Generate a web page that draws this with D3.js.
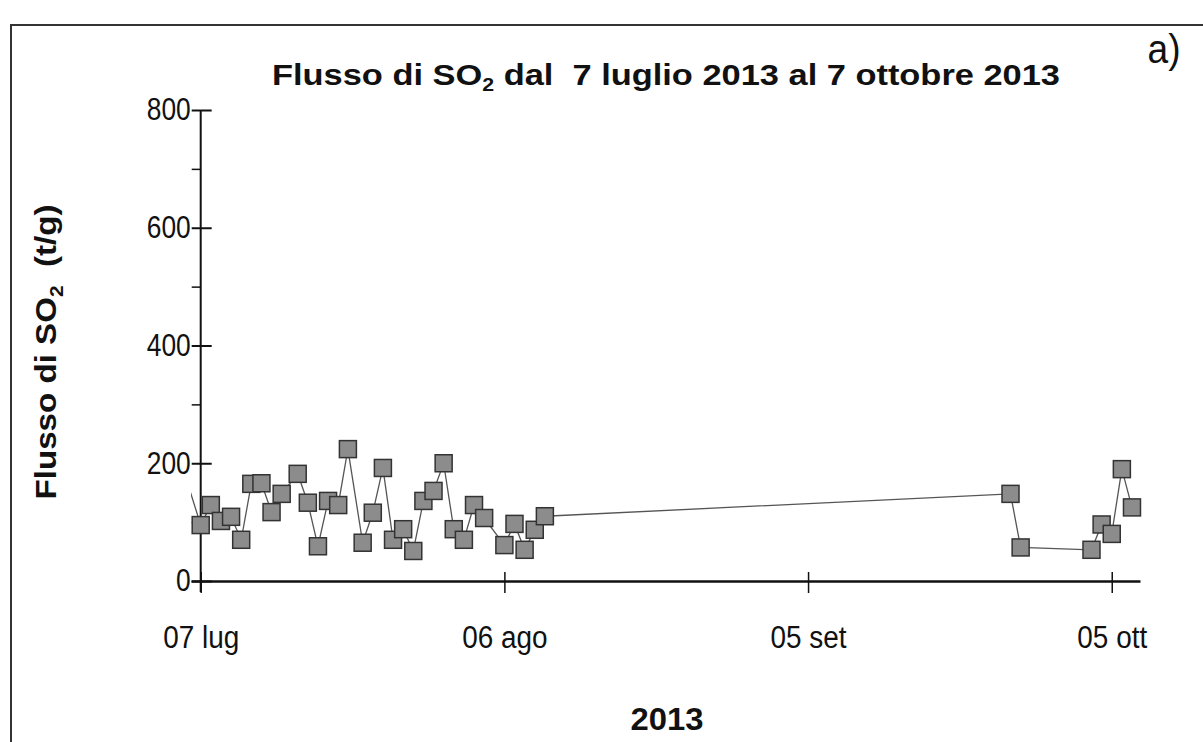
<!DOCTYPE html>
<html lang="en">
<head>
    <meta charset="utf-8">
    <script src="https://cdnjs.cloudflare.com/ajax/libs/d3/7.3.0/d3.min.js"></script>
    <style>
        body { margin: 0; background: #fff; }
        text { white-space: pre; }
    </style>
</head>
<body>

<script>
// measurement times (local) and SO2 flux in t/g
var dates = [
    "2013-07-06 00:00", "2013-07-07 00:00", "2013-07-08 00:00", "2013-07-09 00:00", "2013-07-10 00:00",
    "2013-07-11 00:00", "2013-07-12 00:00", "2013-07-13 00:00", "2013-07-14 00:00", "2013-07-15 00:00",
    "2013-07-16 14:00", "2013-07-17 14:00", "2013-07-18 14:00", "2013-07-19 14:00", "2013-07-20 14:00",
    "2013-07-21 13:00", "2013-07-23 00:00", "2013-07-24 00:00", "2013-07-25 00:00", "2013-07-26 00:00",
    "2013-07-27 00:00", "2013-07-28 00:00", "2013-07-29 00:00", "2013-07-30 00:00", "2013-07-31 00:00",
    "2013-08-01 00:00", "2013-08-02 00:00", "2013-08-03 00:00", "2013-08-04 00:00", "2013-08-06 00:00",
    "2013-08-07 00:00", "2013-08-08 00:00", "2013-08-09 00:00", "2013-08-10 00:00", "2013-09-25 00:00",
    "2013-09-26 00:00", "2013-10-03 00:00", "2013-10-04 00:00", "2013-10-05 00:00", "2013-10-06 00:00",
    "2013-10-07 00:00"
]
var flux = [
    150, 95, 129, 102, 109,
    70, 165, 166, 117, 148,
    182, 133, 59, 136, 129,
    224, 65, 116, 192, 70,
    88, 51, 136, 153, 200,
    88, 70, 129, 107, 61,
    97, 53, 87, 110, 148,
    57, 53, 96, 80, 190,
    125
]

var tickDates = ["2013-07-07 00:00", "2013-08-06 00:00", "2013-09-05 00:00", "2013-10-05 00:00"]
var tickLabels = ["07 lug", "06 ago", "05 set", "05 ott"]
var yMajor = [0, 200, 400, 600, 800]
var yMinor = [100, 300, 500, 700]

var parse = d3.timeParse("%Y-%m-%d %H:%M")
var data = dates.map((d, i) => ({date: parse(d), value: flux[i]}))

var width = 1203
var height = 742
var font = "'Liberation Sans', Arial, sans-serif"
var axisColor = "#111"

// the original picture is stretched vertically, so text is narrowed a bit
function squeeze(sel, factor) {
        sel.each(function() {
                var w = this.getComputedTextLength()
                d3.select(this).attr("textLength", w * factor).attr("lengthAdjust", "spacingAndGlyphs")
        })
}

var x = d3.scaleTime()
        .domain([parse("2013-07-06 01:00"), parse("2013-10-07 19:00")])
        .range([191, 1140])

var y = d3.scaleLinear()
        .domain([0, 800])
        .range([581, 110])

var svg = d3.select("body").append("svg")
        .attr("width", width)
        .attr("height", height)
        .attr("font-family", font)

// outer frame (only top and left edges visible)
svg.append("rect")
        .attr("x", 11).attr("y", 25)
        .attr("width", 1300).attr("height", 800)
        .attr("fill", "none")
        .attr("stroke", "#333")
        .attr("stroke-width", 2)

svg.append("defs").append("clipPath").attr("id", "plotclip")
        .append("rect")
        .attr("x", x.range()[0]).attr("y", 100)
        .attr("width", x.range()[1] - x.range()[0])
        .attr("height", 490)

var x0 = x(parse(tickDates[0]))

// x axis: ticks crossing the line
var xb = svg.append("g").attr("transform", `translate(0,${y(0)})`)
        .call(d3.axisBottom(x).tickValues(tickDates.map(parse)).tickSize(12).tickSizeOuter(0)
                .tickFormat((d, i) => tickLabels[i]))
xb.select(".domain").attr("stroke", axisColor).attr("stroke-width", 2.5)
xb.selectAll(".tick line").attr("stroke", axisColor).attr("stroke-width", 1.5)
xb.selectAll(".tick text")
        .attr("font-size", 31)
        .attr("font-family", font)
        .attr("fill", "#111")
        .attr("y", 67)
        .attr("dy", 0)
squeeze(xb.selectAll(".tick text"), 0.9)

var xt = svg.append("g").attr("transform", `translate(0,${y(0)})`)
        .call(d3.axisTop(x).tickValues(tickDates.map(parse)).tickSize(9).tickFormat(""))
xt.select(".domain").remove()
xt.selectAll(".tick line").attr("stroke", axisColor).attr("stroke-width", 1.5)

// y axis
svg.append("line")
        .attr("x1", x0).attr("x2", x0)
        .attr("y1", y(800)).attr("y2", y(0) + 11)
        .attr("stroke", axisColor).attr("stroke-width", 2)

var yl = svg.append("g").attr("transform", `translate(${x0},0)`)
        .call(d3.axisLeft(y).tickValues(yMajor).tickSize(9).tickPadding(1))
yl.select(".domain").remove()
yl.selectAll(".tick line").attr("stroke", axisColor).attr("stroke-width", 2)
yl.selectAll(".tick text")
        .attr("font-size", 31)
        .attr("font-family", font)
        .attr("fill", "#111")
squeeze(yl.selectAll(".tick text"), 0.85)

var yr = svg.append("g").attr("transform", `translate(${x0},0)`)
        .call(d3.axisRight(y).tickValues(yMajor).tickSize(11).tickFormat(""))
yr.select(".domain").remove()
yr.selectAll(".tick line").attr("stroke", axisColor).attr("stroke-width", 2)

var ym = svg.append("g").attr("transform", `translate(${x0},0)`)
        .call(d3.axisLeft(y).tickValues(yMinor).tickSize(9).tickFormat(""))
ym.select(".domain").remove()
ym.selectAll(".tick line").attr("stroke", axisColor).attr("stroke-width", 1.5)

// the series
svg.append("path")
        .datum(data)
        .attr("clip-path", "url(#plotclip)")
        .attr("fill", "none")
        .attr("stroke", "#555")
        .attr("stroke-width", 1.3)
        .attr("d", d3.line().x(d => x(d.date)).y(d => y(d.value)))

var s = 17
var [t0, t1] = x.domain()
svg.append("g")
        .selectAll("rect")
        .data(data.filter(d => d.date >= t0 && d.date <= t1))
        .join("rect")
        .attr("x", d => x(d.date) - s / 2)
        .attr("y", d => y(d.value) - s / 2)
        .attr("width", s)
        .attr("height", s)
        .attr("fill", "#8c8c8c")
        .attr("stroke", "#333")
        .attr("stroke-width", 1.5)

// titles
var title = svg.append("text")
        .attr("x", 666).attr("y", 85)
        .attr("text-anchor", "middle")
        .attr("font-size", 29)
        .attr("font-weight", "bold")
        .attr("fill", "#111")
        .attr("textLength", 788)
        .attr("lengthAdjust", "spacingAndGlyphs")
title.append("tspan").text("Flusso di SO")
title.append("tspan").attr("font-size", 18).attr("dy", 6).text("2")
title.append("tspan").attr("dy", -6).text(" dal  7 luglio 2013 al 7 ottobre 2013")

svg.append("text")
        .attr("x", 1164).attr("y", 63)
        .attr("text-anchor", "middle")
        .attr("font-size", 40)
        .attr("fill", "#111")
        .attr("textLength", 33)
        .attr("lengthAdjust", "spacingAndGlyphs")
        .text("a)")

var ylab = svg.append("text")
        .attr("transform", "translate(56,352) rotate(-90)")
        .attr("text-anchor", "middle")
        .attr("font-size", 30)
        .attr("font-weight", "bold")
        .attr("fill", "#111")
        .attr("textLength", 295)
        .attr("lengthAdjust", "spacingAndGlyphs")
ylab.append("tspan").text("Flusso di SO")
ylab.append("tspan").attr("font-size", 19).attr("dy", 7).text("2")
ylab.append("tspan").attr("dy", -7).text("  (t/g)")

var xlab = svg.append("text")
        .attr("x", 667).attr("y", 730)
        .attr("text-anchor", "middle")
        .attr("font-size", 32)
        .attr("font-weight", "bold")
        .attr("fill", "#111")
        .attr("textLength", 73)
        .attr("lengthAdjust", "spacingAndGlyphs")
        .text("2013")

</script>
</body>
</html>
